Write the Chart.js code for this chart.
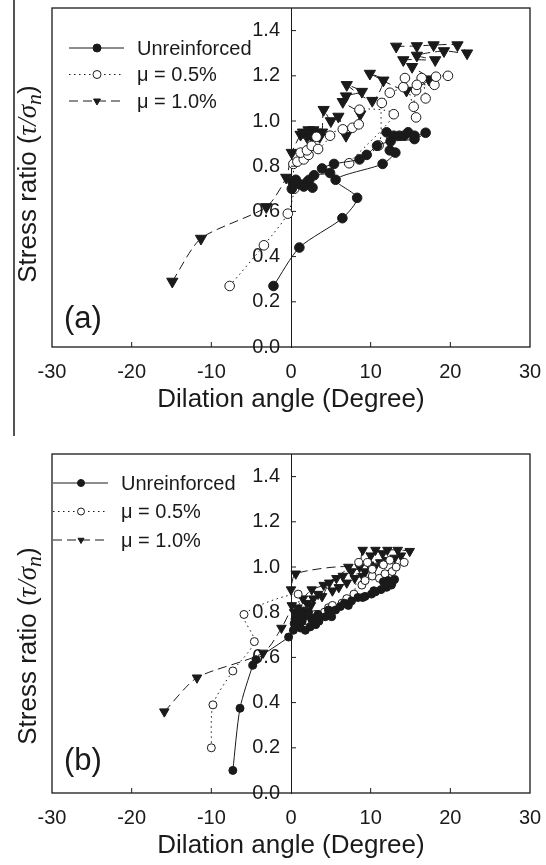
<!DOCTYPE html>
<html>
<head>
<meta charset="utf-8">
<style>
  body { margin: 0; background: #fff; }
  .panel { position: absolute; left: 0; }
</style>
</head>
<body>
<div class="panel" style="top:0"><canvas id="chartA" width="546" height="436"></canvas></div>
<div class="panel" style="top:436px"><canvas id="chartB" width="546" height="429"></canvas></div>

<script src="https://cdn.jsdelivr.net/npm/chart.js"></script>
<script>
const FONT = "'Liberation Sans', Arial, sans-serif";
const SERIF = "'Liberation Serif', 'DejaVu Serif', serif";
const INK = '#1a1a1a';

const seriesNames = ['Unreinforced', 'μ = 0.5%', 'μ = 1.0%'];
const xTicks = [-30, -20, -10, 0, 10, 20, 30];
const yTicks = [0.0, 0.2, 0.4, 0.6, 0.8, 1.0, 1.2, 1.4];

// (a) dilation angle vs stress ratio
const aUnreinforcedX = [-2.2, 1.05, 6.45, 8.3, 5.6, 11.5, 13.1, 12.4, 12.0, 12.9, 13.6, 14.2, 14.7, 15.5, 16.9, 15.5, 12.5, 10.8, 9.5, 8.6, 5.4, 3.9, 4.9, 2.9, 2.3, 2.7, 2.0, 1.6, 1.1, 0.6, 0.2, 0.1];
const aUnreinforcedY = [0.27, 0.44, 0.57, 0.66, 0.74, 0.81, 0.86, 0.87, 0.95, 0.935, 0.935, 0.935, 0.95, 0.935, 0.948, 0.92, 0.91, 0.89, 0.85, 0.83, 0.81, 0.79, 0.77, 0.76, 0.74, 0.705, 0.73, 0.71, 0.72, 0.74, 0.73, 0.70];

const a05X = [-7.7, -3.4, -0.4, 0.4, 0.3, 0.8, 1.6, 1.2, 2.2, 2.0, 2.6, 3.4, 4.9, 3.2, 6.5, 7.7, 8.5, 8.6, 12.9, 7.3, 11.0, 11.4, 12.4, 14.1, 14.3, 15.7, 15.4, 15.7, 16.4, 16.9, 15.8, 18.0, 18.2, 19.7];
const a05Y = [0.27, 0.45, 0.59, 0.70, 0.81, 0.82, 0.83, 0.86, 0.85, 0.87, 0.89, 0.876, 0.935, 0.93, 0.963, 0.97, 0.985, 1.05, 1.03, 0.813, 0.892, 1.08, 1.125, 1.15, 1.19, 1.016, 1.063, 1.136, 1.19, 1.10, 1.16, 1.16, 1.196, 1.20];

const a10X = [-14.9, -11.3, -3.1, -0.6, 0.1, 1.2, 1.5, 2.0, 2.2, 2.8, 2.6, 3.2, 3.3, 3.6, 3.9, 4.1, 5.0, 5.95, 6.9, 8.7, 6.5, 6.9, 8.9, 7.0, 10.2, 11.6, 9.9, 14.5, 17.3, 15.2, 14.1, 18.1, 15.8, 19.2, 22.1, 20.9, 17.9, 15.8, 13.2];
const a10Y = [0.29, 0.48, 0.62, 0.75, 0.86, 0.94, 0.95, 0.93, 0.96, 0.96, 0.93, 0.95, 0.94, 0.93, 0.95, 1.05, 1.0, 1.02, 0.935, 1.03, 1.085, 1.11, 1.13, 1.16, 1.09, 1.18, 1.21, 1.135, 1.185, 1.24, 1.27, 1.27, 1.29, 1.31, 1.30, 1.336, 1.336, 1.332, 1.33];

// (b)
const bUnreinforcedX = [-7.3, -6.4, -4.8, -4.4, -0.3, 0.3, 0.8, 0.5, 1.2, 1.8, 2.4, 3.1, 3.5, 2.6, 1.6, 0.9, 0.4, 1.4, 2.2, 2.9, 3.4, 4.3, 5.1, 4.7, 5.6, 6.2, 6.7, 7.2, 7.6, 8.4, 9.3, 10.1, 10.6, 11.3, 12.0, 12.6, 13.0, 12.2, 11.6, 12.7, 11.9, 10.4, 9.0];
const bUnreinforcedY = [0.10, 0.375, 0.565, 0.59, 0.69, 0.72, 0.74, 0.77, 0.73, 0.72, 0.735, 0.745, 0.76, 0.77, 0.78, 0.79, 0.75, 0.76, 0.80, 0.775, 0.79, 0.78, 0.78, 0.81, 0.81, 0.825, 0.84, 0.83, 0.85, 0.865, 0.87, 0.88, 0.89, 0.90, 0.91, 0.92, 0.945, 0.94, 0.935, 0.93, 0.92, 0.895, 0.865];

const b05X = [-10.0, -9.8, -7.3, -4.6, -5.9, 0.9, 0.6, 1.0, 1.8, 2.6, 3.0, 3.4, 4.2, 4.7, 5.2, 6.4, 7.0, 7.9, 8.5, 8.9, 9.3, 10.2, 11.1, 11.8, 12.7, 14.2, 13.2, 12.4, 11.6, 10.2, 9.6];
const b05Y = [0.20, 0.39, 0.54, 0.67, 0.79, 0.88, 0.77, 0.765, 0.763, 0.77, 0.79, 0.79, 0.80, 0.82, 0.83, 0.84, 0.86, 0.88, 1.02, 0.92, 0.94, 0.96, 0.95, 0.97, 0.98, 1.02, 1.0, 1.03, 1.01, 0.99, 1.02];

const b10X = [-15.9, -11.8, -3.5, -1.2, 0.1, 0.0, 0.6, 7.2, 4.1, 2.6, 1.5, 0.4, 0.8, 1.3, 1.0, 2.0, 2.5, 1.8, 2.8, 3.4, 3.9, 4.8, 5.7, 6.5, 7.6, 8.6, 9.0, 10.0, 10.6, 11.5, 12.1, 13.4, 14.9, 13.8, 13.0, 12.0, 11.2, 9.8, 9.3, 10.5, 9.0, 8.0, 7.0, 6.0, 5.2];
const b10Y = [0.36, 0.51, 0.62, 0.73, 0.83, 0.90, 0.97, 1.00, 0.92, 0.90, 0.86, 0.80, 0.82, 0.81, 0.785, 0.84, 0.83, 0.80, 0.86, 0.88, 0.87, 0.93, 0.95, 0.96, 0.98, 1.00, 1.075, 1.05, 1.075, 1.06, 1.075, 1.075, 1.07, 1.05, 1.04, 1.03, 1.02, 1.01, 0.98, 1.0, 0.96, 0.95, 0.93, 0.91, 0.895];

function pts(xs, ys) {
  return xs.map((x, i) => ({ x: x, y: ys[i] }));
}

// line / marker look of each series
const looks = [
  { dash: [], marker: 'circle', fill: INK },
  { dash: [1.5, 3.5], marker: 'circle', fill: '#fff' },
  { dash: [9, 5], marker: 'triangle', fill: INK }
];

function drawMarker(ctx, look, x, y, r) {
  ctx.beginPath();
  if (look.marker === 'circle') {
    ctx.arc(x, y, r, 0, Math.PI * 2);
  } else {
    const w = r * Math.sqrt(3) / 2;
    ctx.moveTo(x - w, y - r / 2);
    ctx.lineTo(x + w, y - r / 2);
    ctx.lineTo(x, y + r);
    ctx.closePath();
  }
  ctx.fillStyle = look.fill;
  ctx.fill();
  ctx.lineWidth = 1;
  ctx.strokeStyle = INK;
  ctx.stroke();
}

function drawYTitle(ctx, cx, cy) {
  const parts = [
    { t: 'Stress ratio (', f: '26px ' + FONT, dy: 0 },
    { t: 'τ/σ', f: 'italic 27px ' + SERIF, dy: 0 },
    { t: 'n', f: 'italic 22px ' + SERIF, dy: 5 },
    { t: ')', f: '26px ' + FONT, dy: 0 }
  ];
  ctx.save();
  ctx.translate(cx, cy);
  ctx.rotate(-Math.PI / 2);
  ctx.fillStyle = INK;
  ctx.textBaseline = 'alphabetic';
  let total = 0;
  parts.forEach(p => { ctx.font = p.f; p.w = ctx.measureText(p.t).width; total += p.w; });
  let x = -total / 2;
  parts.forEach(p => {
    ctx.font = p.f;
    ctx.fillText(p.t, x, 9 + p.dy);
    x += p.w;
  });
  ctx.restore();
}

// box, inward ticks, y labels on the zero line, legend and panel tag
const framePlugin = {
  id: 'frame',
  afterDraw(chart, args, opts) {
    const ctx = chart.ctx;
    const area = chart.chartArea;
    const xs = chart.scales.x;
    const ys = chart.scales.y;
    const x0 = xs.getPixelForValue(0);

    ctx.save();
    ctx.strokeStyle = INK;
    ctx.lineWidth = 1.3;
    ctx.strokeRect(area.left, area.top, area.right - area.left, area.bottom - area.top);

    ctx.lineWidth = 1;
    ctx.beginPath();
    xs.ticks.forEach(t => {
      if (t.value > xs.min && t.value < xs.max && t.value !== 0) {
        const px = xs.getPixelForValue(t.value);
        ctx.moveTo(px, area.bottom);
        ctx.lineTo(px, area.bottom - 5);
      }
    });
    ys.ticks.forEach(t => {
      if (t.value > 0) {
        const py = ys.getPixelForValue(t.value);
        ctx.moveTo(x0, py);
        ctx.lineTo(x0 + 5, py);
      }
    });
    ctx.stroke();

    ctx.font = '20px ' + FONT;
    ctx.fillStyle = INK;
    ctx.textAlign = 'right';
    ctx.textBaseline = 'middle';
    ys.ticks.forEach(t => ctx.fillText(t.value.toFixed(1), x0 - 11, ys.getPixelForValue(t.value)));

    // legend
    chart.data.datasets.forEach((ds, i) => {
      const look = looks[i];
      const y = opts.legendY + i * opts.legendStep;
      ctx.beginPath();
      ctx.setLineDash(look.dash);
      ctx.lineWidth = 1;
      ctx.strokeStyle = INK;
      ctx.moveTo(opts.legendX, y);
      ctx.lineTo(opts.legendX + 55, y);
      ctx.stroke();
      ctx.setLineDash([]);
      drawMarker(ctx, look, opts.legendX + 28, y, opts.legendR);
      ctx.font = '20px ' + FONT;
      ctx.fillStyle = INK;
      ctx.textAlign = 'left';
      ctx.textBaseline = 'middle';
      ctx.fillText(ds.label, opts.legendX + 68, y + 1);
    });

    ctx.font = '31px ' + FONT;
    ctx.textAlign = 'left';
    ctx.textBaseline = 'middle';
    ctx.fillText(opts.tag, 64, opts.tagY);

    if (opts.edgeLine) {
      ctx.beginPath();
      ctx.lineWidth = 1.5;
      ctx.moveTo(14, 0);
      ctx.lineTo(14, chart.height);
      ctx.stroke();
    }
    ctx.restore();

    drawYTitle(ctx, 27, opts.titleY);
  }
};

function makeChart(id, series, opts) {
  const datasets = series.map((s, i) => ({
    label: seriesNames[i],
    data: s,
    showLine: true,
    borderColor: INK,
    borderWidth: 1,
    borderDash: looks[i].dash,
    tension: 0.25,
    pointStyle: looks[i].marker,
    pointRotation: looks[i].marker === 'triangle' ? 180 : 0,
    pointRadius: looks[i].marker === 'triangle' ? opts.triR : opts.dotR,
    pointBackgroundColor: looks[i].fill,
    pointBorderColor: INK,
    pointBorderWidth: 1
  }));

  return new Chart(document.getElementById(id), {
    type: 'scatter',
    data: { datasets: datasets },
    options: {
      responsive: false,
      animation: false,
      devicePixelRatio: 1,
      layout: { padding: { left: 52, right: 16, top: opts.top, bottom: opts.bottom } },
      plugins: {
        legend: { display: false },
        tooltip: { enabled: false },
        frame: opts
      },
      scales: {
        x: {
          type: 'linear',
          min: -30,
          max: 30,
          afterBuildTicks: s => { s.ticks = xTicks.map(v => ({ value: v })); },
          afterFit: s => { s.height = 70; },
          // hidden tick marks only reserve the gap above the labels
          grid: { display: false, drawTicks: true, tickLength: 9 },
          border: { display: false },
          ticks: { color: INK, font: { family: FONT, size: 20 }, padding: 4 },
          title: {
            display: true,
            text: 'Dilation angle (Degree)',
            color: INK,
            font: { family: FONT, size: 26 },
            padding: { top: 4, bottom: 2 }
          }
        },
        y: {
          type: 'linear',
          min: 0,
          max: 1.5,
          position: { x: 0 },
          afterBuildTicks: s => { s.ticks = yTicks.map(v => ({ value: v })); },
          grid: { display: false, drawTicks: false },
          border: { display: true, color: INK, width: 1 },
          ticks: { display: false }
        }
      }
    },
    plugins: [framePlugin]
  });
}

makeChart('chartA',
  [pts(aUnreinforcedX, aUnreinforcedY), pts(a05X, a05Y), pts(a10X, a10Y)],
  { top: 8, bottom: 19, dotR: 4.8, triR: 6.5, legendX: 69, legendY: 48, legendStep: 26.5, legendR: 4,
    tag: '(a)', tagY: 319, titleY: 184, edgeLine: true });

makeChart('chartB',
  [pts(bUnreinforcedX, bUnreinforcedY), pts(b05X, b05Y), pts(b10X, b10Y)],
  { top: 18, bottom: 2, dotR: 4, triR: 5.5, legendX: 53, legendY: 47, legendStep: 28.5, legendR: 3.5,
    tag: '(b)', tagY: 325, titleY: 210, edgeLine: false });
</script>
</body>
</html>
